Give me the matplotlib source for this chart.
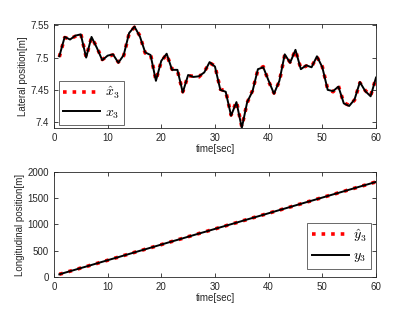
import matplotlib
matplotlib.use('Agg')
import matplotlib.pyplot as plt

# time axis (sec)
t = list(range(1, 61))

# lateral position, true and estimated
x3 = [7.502, 7.532, 7.528, 7.534, 7.536, 7.500, 7.532, 7.515, 7.496, 7.503,
      7.505, 7.492, 7.504, 7.538, 7.548, 7.533, 7.508, 7.504, 7.464, 7.495,
      7.506, 7.481, 7.481, 7.446, 7.473, 7.470, 7.471, 7.477, 7.493, 7.486,
      7.450, 7.447, 7.410, 7.431, 7.391, 7.431, 7.448, 7.482, 7.485, 7.464,
      7.444, 7.464, 7.505, 7.492, 7.512, 7.482, 7.488, 7.485, 7.502, 7.485,
      7.450, 7.448, 7.455, 7.429, 7.425, 7.435, 7.462, 7.448, 7.440, 7.469]
x3_hat = [7.501, 7.531, 7.529, 7.533, 7.537, 7.501, 7.531, 7.516, 7.497, 7.502,
          7.504, 7.493, 7.503, 7.537, 7.547, 7.534, 7.507, 7.505, 7.465, 7.494,
          7.505, 7.482, 7.480, 7.447, 7.472, 7.471, 7.470, 7.478, 7.492, 7.487,
          7.451, 7.448, 7.411, 7.432, 7.393, 7.430, 7.449, 7.481, 7.486, 7.463,
          7.445, 7.463, 7.504, 7.493, 7.511, 7.483, 7.487, 7.486, 7.501, 7.486,
          7.451, 7.447, 7.456, 7.430, 7.426, 7.434, 7.461, 7.449, 7.441, 7.468]

# longitudinal position, true and estimated
y3 = [52, 82, 111, 141, 171, 200, 230, 260, 290, 320,
      350, 379, 409, 439, 469, 499, 528, 558, 588, 618,
      648, 678, 707, 737, 767, 797, 827, 856, 886, 916,
      946, 976, 1005, 1035, 1065, 1095, 1125, 1154, 1184, 1214,
      1244, 1274, 1303, 1333, 1363, 1393, 1423, 1452, 1482, 1512,
      1542, 1572, 1601, 1631, 1661, 1691, 1721, 1750, 1780, 1810]
y3_hat = [53, 81, 112, 140, 172, 199, 231, 259, 291, 319,
          351, 378, 410, 438, 470, 498, 529, 557, 589, 617,
          649, 677, 708, 736, 768, 796, 828, 855, 887, 915,
          947, 975, 1006, 1034, 1066, 1094, 1126, 1153, 1185, 1213,
          1245, 1273, 1304, 1332, 1364, 1392, 1424, 1451, 1483, 1511,
          1543, 1571, 1602, 1630, 1662, 1690, 1722, 1749, 1781, 1809]

plt.rcParams['font.family'] = 'Liberation Sans'
plt.rcParams['mathtext.fontset'] = 'cm'
axcol = '#262626'

fig = plt.figure(figsize=(4.15, 3.12), dpi=100)
ax1 = fig.add_axes([0.130, 0.590, 0.776, 0.333])
ax2 = fig.add_axes([0.130, 0.112, 0.776, 0.337])


def style(ax):
    ax.tick_params(direction='in', top=True, right=True, labelsize=7,
                   colors=axcol, length=3, width=0.6)
    for s in ax.spines.values():
        s.set_color(axcol)
        s.set_linewidth(0.6)
    ax.set_xlim(0, 60)
    ax.set_xticks([0, 10, 20, 30, 40, 50, 60])
    ax.set_xlabel('time[sec]', fontsize=7, color=axcol, labelpad=1)


ax1.plot(t, x3_hat, ':', color='red', lw=2.6, label=r'$\hat{x}_3$')
ax1.plot(t, x3, '-', color='black', lw=1.4, label=r'$x_3$')
ax1.set_ylim(7.391, 7.552)
ax1.set_yticks([7.4, 7.45, 7.5, 7.55])
ax1.set_yticklabels(['7.4', '7.45', '7.5', '7.55'])
ax1.set_ylabel('Lateral position[m]', fontsize=7, color=axcol, labelpad=2)
style(ax1)
leg1 = ax1.legend(loc='lower left', bbox_to_anchor=(0.015, 0.03), fontsize=10,
                  fancybox=False, edgecolor=axcol, handlelength=2.7,
                  borderpad=0.3, labelspacing=0.3, handletextpad=0.3,
                  borderaxespad=0)
leg1.get_frame().set_linewidth(0.6)

ax2.plot(t, y3_hat, ':', color='red', lw=2.6, label=r'$\hat{y}_3$')
ax2.plot(t, y3, '-', color='black', lw=1.4, label=r'$y_3$')
ax2.set_ylim(0, 2000)
ax2.set_yticks([0, 500, 1000, 1500, 2000])
ax2.set_ylabel('Longitudinal position[m]', fontsize=7, color=axcol, labelpad=2)
style(ax2)
leg2 = ax2.legend(loc='lower right', bbox_to_anchor=(0.985, 0.08), fontsize=10,
                  fancybox=False, edgecolor=axcol, handlelength=2.7,
                  borderpad=0.3, labelspacing=0.3, handletextpad=0.3,
                  borderaxespad=0)
leg2.get_frame().set_linewidth(0.6)

fig.savefig('out.png', dpi=100)
